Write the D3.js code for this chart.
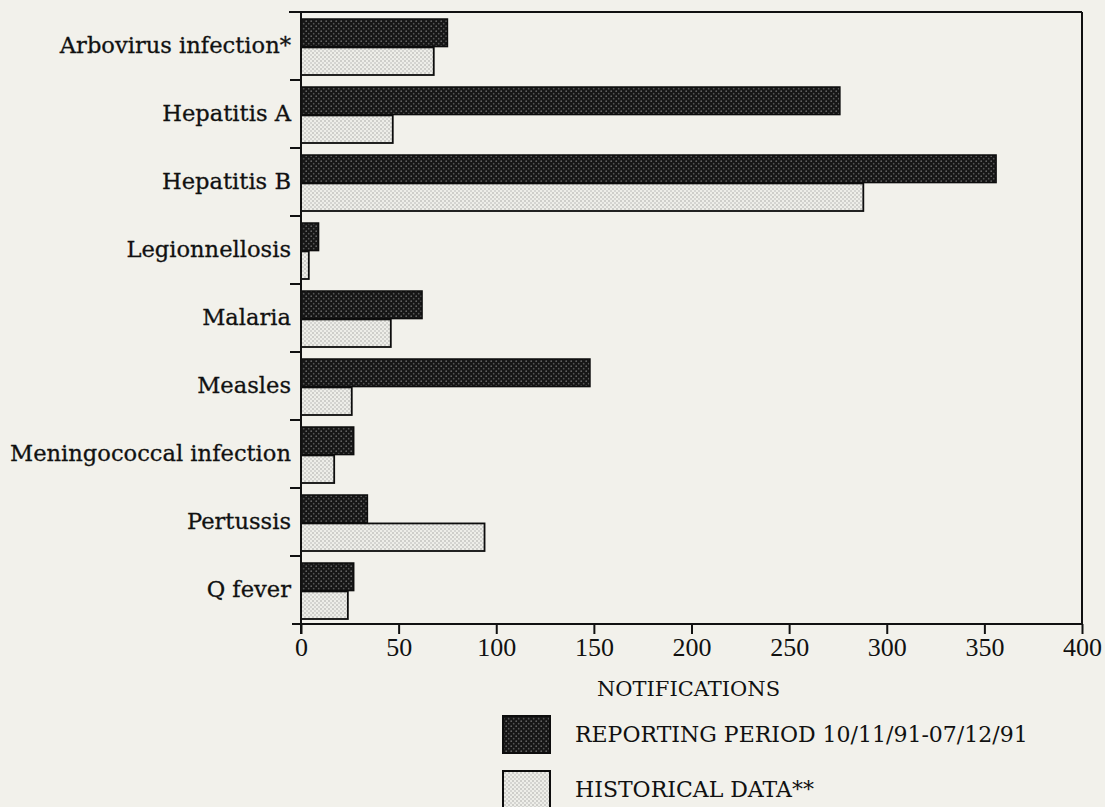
<!DOCTYPE html>
<html>
<head>
<meta charset="utf-8">
<script src="https://cdn.jsdelivr.net/npm/d3@7"></script>
<style>
  html, body { margin: 0; padding: 0; background: #f2f1eb; }
  svg { display: block; }
</style>
</head>
<body>
<svg id="chart" width="1105" height="807"></svg>
<script>
// ---- data ----
const categories = ["Arbovirus infection*", "Hepatitis A", "Hepatitis B", "Legionnellosis",
  "Malaria", "Measles", "Meningococcal infection", "Pertussis", "Q fever"];
const reportingPeriod = [75, 276, 356, 9, 62, 148, 27, 34, 27];
const historicalData = [68, 47, 288, 4, 46, 26, 17, 94, 24];
const xTicks = [0, 50, 100, 150, 200, 250, 300, 350, 400];
const seriesNames = ["REPORTING PERIOD 10/11/91-07/12/91", "HISTORICAL DATA**"];
const xTitle = "NOTIFICATIONS";

(function () {
// ---- layout ----
const svg = d3.select("#chart");
const mLeft = 301, mRight = 1082, mTop = 12, mBottom = 624;
const ink = "#111111";
const serif = "'DejaVu Serif', serif";

svg.append("rect").attr("width", 1105).attr("height", 807).attr("fill", "#f2f1eb");

// patterns
const defs = svg.append("defs");
const pd = defs.append("pattern").attr("id", "darkPat").attr("patternUnits", "userSpaceOnUse")
  .attr("width", 5).attr("height", 5);
pd.append("rect").attr("width", 5).attr("height", 5).attr("fill", "#161616");
pd.append("circle").attr("cx", 1.2).attr("cy", 1.2).attr("r", 0.85).attr("fill", "#666");
pd.append("circle").attr("cx", 3.7).attr("cy", 3.7).attr("r", 0.85).attr("fill", "#555");

const pl = defs.append("pattern").attr("id", "lightPat").attr("patternUnits", "userSpaceOnUse")
  .attr("width", 4).attr("height", 4);
pl.append("rect").attr("width", 4).attr("height", 4).attr("fill", "#eeeee9");
pl.append("circle").attr("cx", 1).attr("cy", 1).attr("r", 0.7).attr("fill", "#959595");
pl.append("circle").attr("cx", 3).attr("cy", 3).attr("r", 0.7).attr("fill", "#aaaaaa");

const x = d3.scaleLinear().domain([0, 400]).range([mLeft, mRight]);
const y = d3.scaleBand().domain(categories).range([mTop, mBottom]).padding(0);
const sub = d3.scaleBand().domain(["cur", "hist"]).range([7, y.bandwidth() - 5]).paddingInner(0.03);

const rows = categories.map((c, i) => ({ c, cur: reportingPeriod[i], hist: historicalData[i] }));

// bars
const g = svg.append("g");
g.selectAll("rect.cur").data(rows).join("rect")
  .attr("class", "cur")
  .attr("x", x(0)).attr("y", d => y(d.c) + sub("cur"))
  .attr("width", d => x(d.cur) - x(0)).attr("height", sub.bandwidth())
  .attr("fill", "url(#darkPat)").attr("stroke", "#0d0d0d").attr("stroke-width", 1.5);
g.selectAll("rect.hist").data(rows).join("rect")
  .attr("class", "hist")
  .attr("x", x(0)).attr("y", d => y(d.c) + sub("hist"))
  .attr("width", d => x(d.hist) - x(0)).attr("height", sub.bandwidth())
  .attr("fill", "url(#lightPat)").attr("stroke", "#0d0d0d").attr("stroke-width", 1.8);

// frame: top line and right border
svg.append("line").attr("x1", mLeft - 12).attr("x2", mRight).attr("y1", mTop).attr("y2", mTop)
  .attr("stroke", ink).attr("stroke-width", 2);
svg.append("line").attr("x1", mRight).attr("x2", mRight).attr("y1", mTop).attr("y2", mBottom)
  .attr("stroke", ink).attr("stroke-width", 2);

// x axis
const xAxis = svg.append("g").attr("transform", `translate(0,${mBottom})`)
  .call(d3.axisBottom(x).tickValues(xTicks).tickSize(10).tickSizeOuter(0).tickPadding(4));
xAxis.select(".domain").remove();
xAxis.selectAll(".tick line").attr("stroke", ink).attr("stroke-width", 2);
xAxis.selectAll(".tick text").attr("fill", ink)
  .style("font-family", "'Liberation Serif', serif").style("font-size", "26px");
svg.append("line").attr("x1", mLeft - 9).attr("x2", mRight).attr("y1", mBottom).attr("y2", mBottom)
  .attr("stroke", ink).attr("stroke-width", 2);

// y axis (labels at band centres, tick marks at band edges)
const yAxis = svg.append("g").attr("transform", `translate(${mLeft},0)`)
  .call(d3.axisLeft(y).tickSize(0).tickPadding(10));
yAxis.select(".domain").remove();
yAxis.selectAll(".tick text").attr("fill", ink)
  .style("font-family", serif).style("font-size", "22.6px")
  .attr("stroke", ink).attr("stroke-width", 0.3);
svg.append("line").attr("x1", mLeft).attr("x2", mLeft).attr("y1", mTop).attr("y2", mBottom + 10)
  .attr("stroke", ink).attr("stroke-width", 2);
svg.append("g").selectAll("line").data(categories.slice(1)).join("line")
  .attr("x1", mLeft - 11).attr("x2", mLeft)
  .attr("y1", d => y(d)).attr("y2", d => y(d))
  .attr("stroke", ink).attr("stroke-width", 2);

// x title
svg.append("text").attr("x", (mLeft + mRight) / 2 - 3).attr("y", 696)
  .attr("text-anchor", "middle").attr("fill", ink)
  .style("font-family", serif).style("font-size", "21px")
  .text(xTitle);

// legend
const legend = svg.append("g");
const legY = [716, 771];
legend.selectAll("rect").data(seriesNames).join("rect")
  .attr("x", 503).attr("y", (d, i) => legY[i])
  .attr("width", 47).attr("height", 37)
  .attr("fill", (d, i) => i === 0 ? "url(#darkPat)" : "url(#lightPat)")
  .attr("stroke", "#0d0d0d").attr("stroke-width", 2);
legend.selectAll("text").data(seriesNames).join("text")
  .attr("x", 575).attr("y", (d, i) => legY[i] + 26)
  .attr("fill", ink)
  .style("font-family", serif).style("font-size", "22px")
  .text(d => d);
})();
</script>
</body>
</html>
